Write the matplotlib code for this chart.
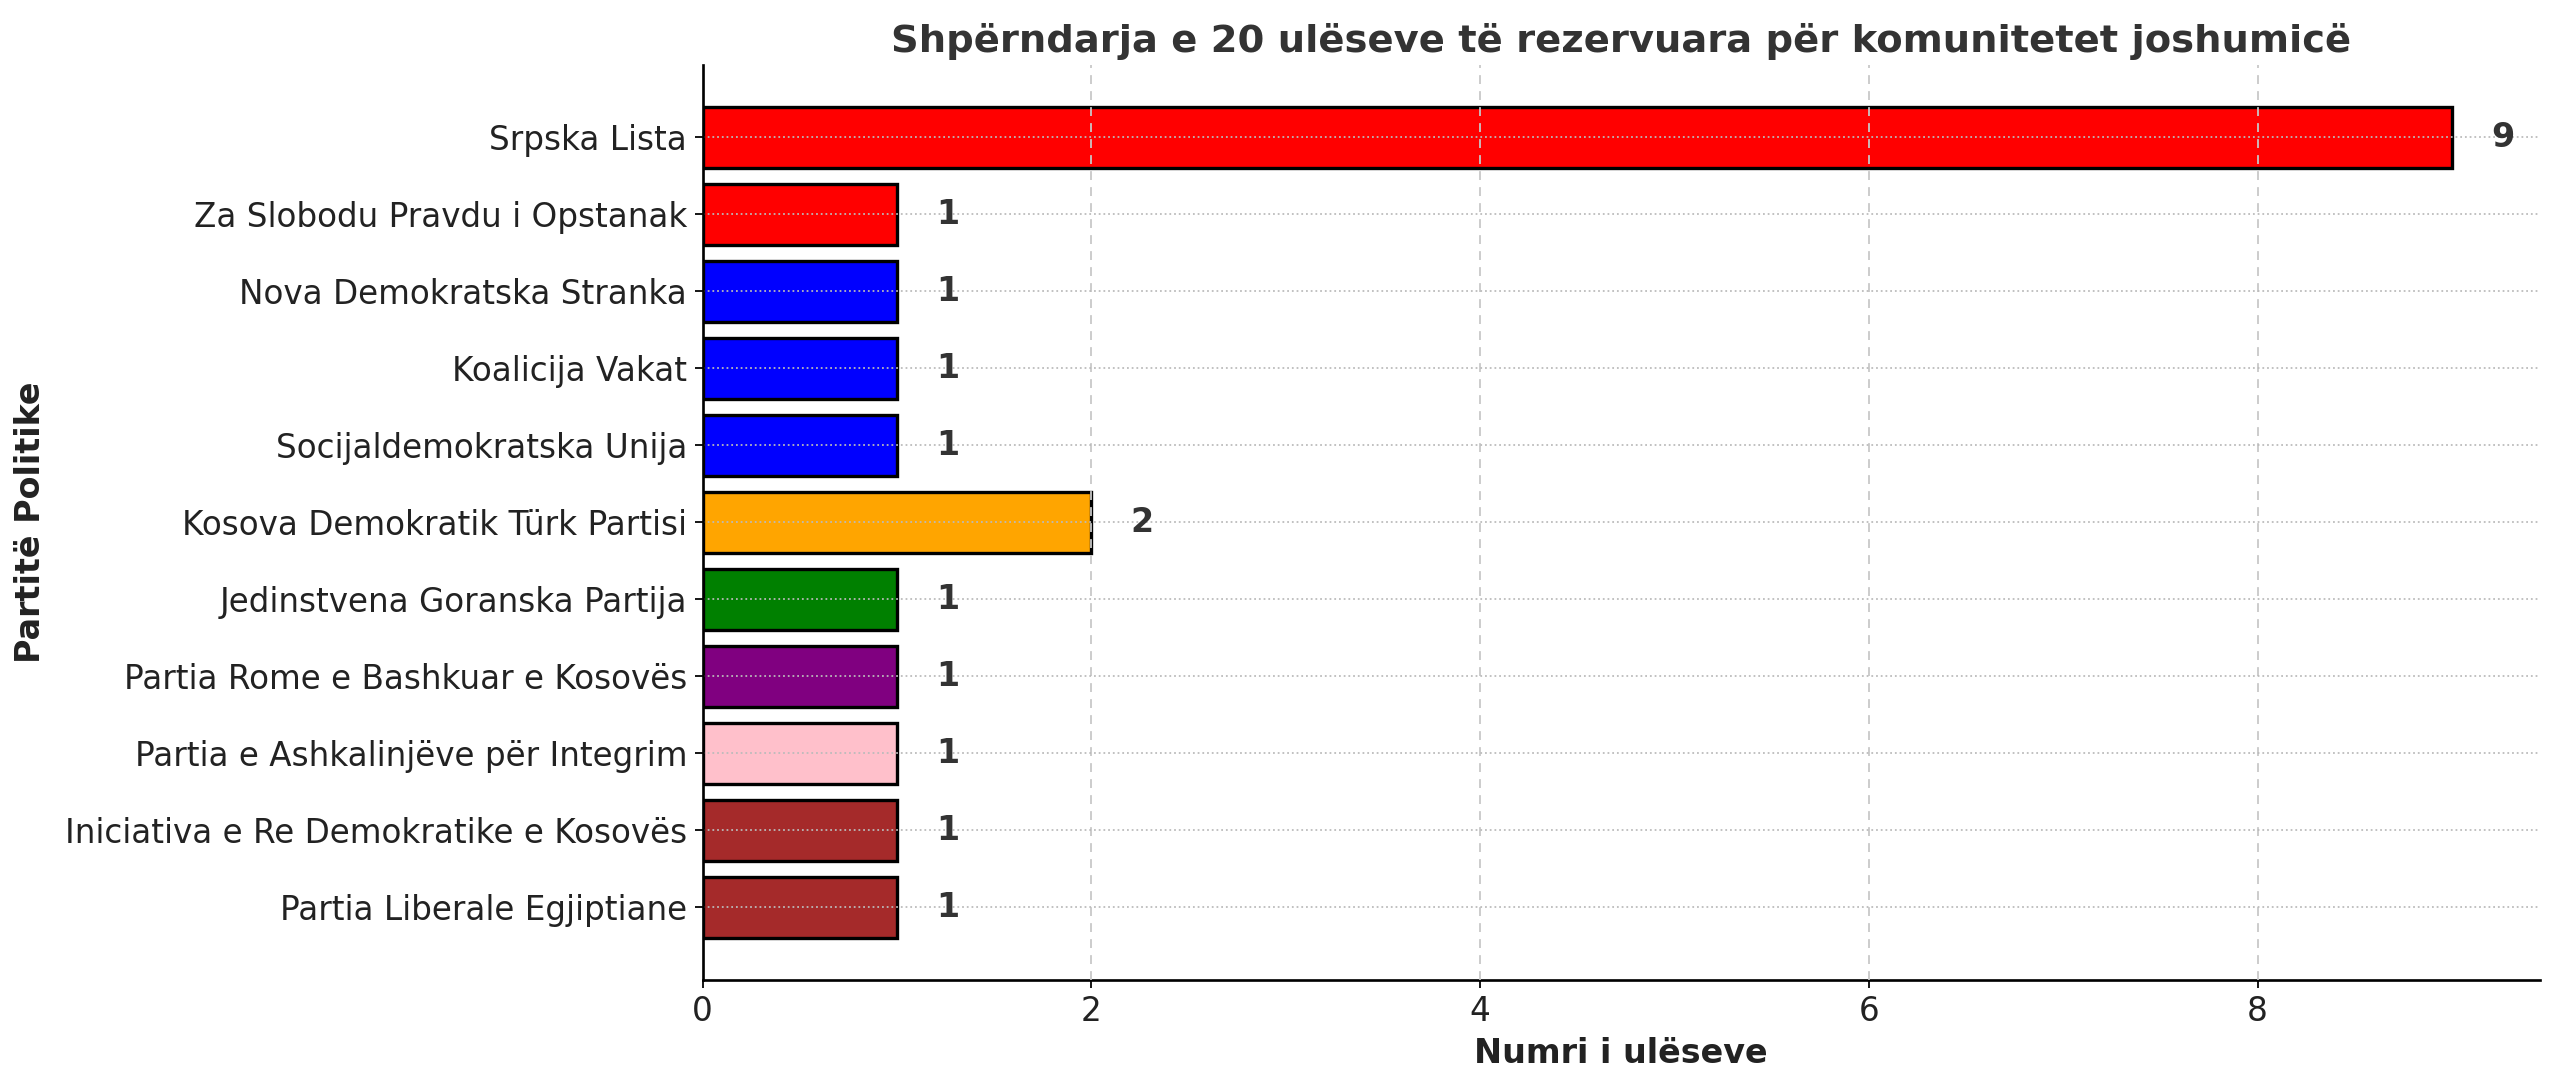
import matplotlib
matplotlib.use("Agg")
import matplotlib.pyplot as plt

parties = [
    "Srpska Lista",
    "Za Slobodu Pravdu i Opstanak",
    "Nova Demokratska Stranka",
    "Koalicija Vakat",
    "Socijaldemokratska Unija",
    "Kosova Demokratik Türk Partisi",
    "Jedinstvena Goranska Partija",
    "Partia Rome e Bashkuar e Kosovës",
    "Partia e Ashkalinjëve për Integrim",
    "Iniciativa e Re Demokratike e Kosovës",
    "Partia Liberale Egjiptiane",
]
seats = [9, 1, 1, 1, 1, 2, 1, 1, 1, 1, 1]
colors = ["red", "red", "blue", "blue", "blue", "orange", "green",
          "purple", "pink", "brown", "brown"]

fig = plt.figure(figsize=(16, 6.78125), dpi=160)
ax = fig.add_axes([0.2745, 0.097, 0.7175, 0.843])

ypos = list(range(len(parties)))[::-1]
ax.barh(ypos, seats, color=colors, edgecolor="black", linewidth=1.5, height=0.8)
ax.set_yticks(ypos)
ax.set_yticklabels(parties, fontsize=14.7, color="#222222")
ax.tick_params(axis="x", labelsize=14.7, labelcolor="#222222")

for y, v in zip(ypos, seats):
    ax.text(v + 0.2, y, str(v), va="center", ha="left", fontsize=15,
            fontweight="bold", color="#333333")

ax.grid(axis="x", linestyle=(0, (5, 4)), color="#c8c8c8", linewidth=0.8)
ax.grid(axis="y", linestyle=":", color="#bbbbbb", linewidth=0.8)
ax.set_axisbelow(False)

ax.spines["top"].set_visible(False)
ax.spines["right"].set_visible(False)
ax.spines["left"].set_linewidth(1.2)
ax.spines["bottom"].set_linewidth(1.2)
ax.spines["left"].set_zorder(5)

ax.set_xlabel("Numri i ulëseve", fontsize=15, fontweight="bold", color="#222222")
ax.set_ylabel("Partitë Politike", fontsize=15, fontweight="bold", color="#222222")
ax.yaxis.set_label_coords(-0.357, 0.5)
ax.set_title("Shpërndarja e 20 ulëseve të rezervuara për komunitetet joshumicë",
             fontsize=17.3, fontweight="bold", color="#333333", pad=6)

fig.savefig("out.png", dpi=160)
